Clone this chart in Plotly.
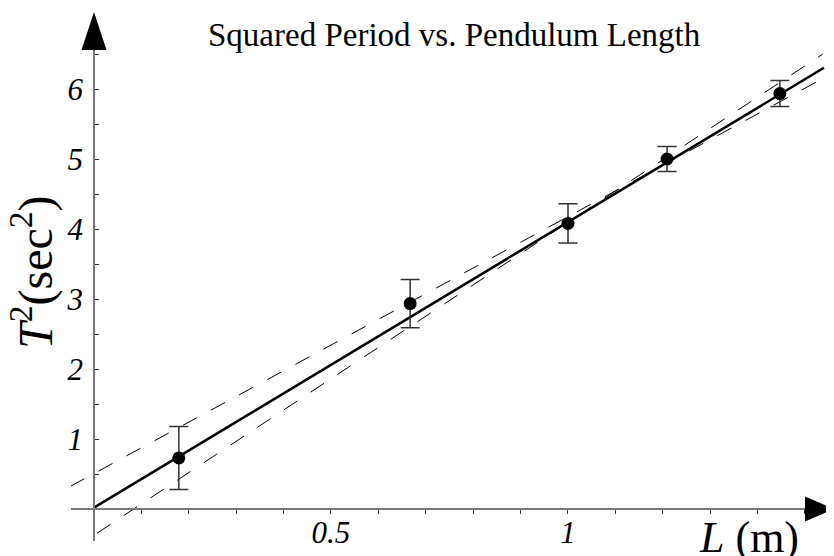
import plotly.graph_objects as go

# ---------------- data ----------------
length_m = [0.179, 0.667, 1.0, 1.209, 1.447]
period_sq = [0.73, 2.935, 4.08, 5.0, 5.935]
period_sq_err = [0.45, 0.345, 0.28, 0.18, 0.185]

fit_slope = 4.08
fit_intercept = 0.02
fit_x = [0.0, 1.54]

upper_slope = 3.67          # shallow bound line
upper_intercept = 0.507
upper_x = [-0.05, 1.551]

lower_slope = 4.47          # steep bound line
lower_intercept = -0.374
lower_x = [-0.05, 1.537]

x_tick_vals = [0.5, 1.0]
x_tick_text = ["0.5", "1"]
x_minor_vals = [0.1, 0.2, 0.3, 0.4, 0.6, 0.7, 0.8, 0.9, 1.1, 1.2, 1.3, 1.4, 1.5]
y_tick_vals = [1, 2, 3, 4, 5, 6]
y_tick_text = ["1", "2", "3", "4", "5", "6"]
y_minor_vals = [0.5, 1.5, 2.5, 3.5, 4.5, 5.5, 6.5]

title_text = "Squared Period vs. Pendulum Length"
y_label = "<i>T</i><sup>2</sup>(sec<sup>2</sup>)"
x_label = "<i>L</i> (m)"

# ---------------- layout geometry ----------------
W, H = 834, 556
OFF = 8  # page body margin offset
x_dom = [(71 - OFF) / W, (834 - OFF) / W]
x_rng = [-0.0485, 1.5612]
y_dom = [(H - (541 - OFF)) / H, (H - (20 - OFF)) / H]
y_rng = [-0.457, 6.986]

def xpaper(v):
    return x_dom[0] + (v - x_rng[0]) / (x_rng[1] - x_rng[0]) * (x_dom[1] - x_dom[0])

def ypaper(v):
    return y_dom[0] + (v - y_rng[0]) / (y_rng[1] - y_rng[0]) * (y_dom[1] - y_dom[0])

def sx(px):
    return (px - OFF) / W

def sy(py):
    return 1 - (py - OFF) / H

SERIF = "Liberation Serif, Times New Roman, serif"

fig = go.Figure()

def line_pts(xs, m, b):
    return xs, [m * x + b for x in xs]

ux, uy = line_pts(upper_x, upper_slope, upper_intercept)
lx, ly = line_pts(lower_x, lower_slope, lower_intercept)
fx, fy = line_pts(fit_x, fit_slope, fit_intercept)

for xs, ys in [(ux, uy), (lx, ly)]:
    fig.add_trace(go.Scatter(x=xs, y=ys, mode="lines",
                             line=dict(color="black", width=1, dash="16px,16px"),
                             showlegend=False, hoverinfo="skip"))

fig.add_trace(go.Scatter(x=fx, y=fy, mode="lines",
                         line=dict(color="black", width=2.5),
                         showlegend=False, hoverinfo="skip"))

fig.add_trace(go.Scatter(x=length_m, y=period_sq, mode="markers",
                         marker=dict(color="black", size=13),
                         error_y=dict(type="data", array=period_sq_err, visible=True,
                                      color="#333333", thickness=1.5, width=9.5),
                         showlegend=False))

# arrowheads on the axes
x_tip = (sx(834), ypaper(0))
ax_len, ax_half = 29 / W, 12.5 / H
ay_len, ay_half = 38 / H, 12.5 / W
y_tip = (xpaper(0), sy(12))
shapes = [
    dict(type="path", xref="paper", yref="paper", fillcolor="black", line=dict(width=0),
         path=f"M {x_tip[0]} {x_tip[1]} L {x_tip[0]-ax_len} {x_tip[1]+ax_half} "
              f"L {x_tip[0]-ax_len} {x_tip[1]-ax_half} Z"),
    dict(type="path", xref="paper", yref="paper", fillcolor="black", line=dict(width=0),
         path=f"M {y_tip[0]} {y_tip[1]} L {y_tip[0]-ay_half} {y_tip[1]-ay_len} "
              f"L {y_tip[0]+ay_half} {y_tip[1]-ay_len} Z"),
]

tick_font = dict(family=SERIF, size=31, color="black", style="italic")

fig.update_layout(
    width=W, height=H,
    margin=dict(l=0, r=0, t=0, b=0),
    paper_bgcolor="white", plot_bgcolor="white",
    shapes=shapes,
    xaxis=dict(domain=x_dom, range=x_rng, anchor="free", position=ypaper(0),
               showgrid=False, zeroline=False, showline=True, linecolor="#777777", linewidth=1.5,
               ticks="outside", ticklen=4, tickwidth=1, tickcolor="#333333",
               tickvals=x_tick_vals, ticktext=x_tick_text, ticklabelstandoff=-8,
               minor=dict(tickvals=x_minor_vals, ticks="outside", ticklen=4, tickwidth=1,
                          tickcolor="#333333", showgrid=False),
               tickfont=tick_font),
    yaxis=dict(domain=y_dom, range=y_rng, anchor="free", position=xpaper(0),
               showgrid=False, zeroline=False, showline=True, linecolor="#777777", linewidth=1.5,
               ticks="inside", ticklen=4, tickwidth=1, tickcolor="#333333",
               tickvals=y_tick_vals, ticktext=y_tick_text, ticklabelstandoff=4,
               minor=dict(tickvals=y_minor_vals, ticks="inside", ticklen=4, tickwidth=1,
                          tickcolor="#333333", showgrid=False),
               tickfont=tick_font),
    annotations=[
        dict(text=title_text, xref="paper", yref="paper", x=sx(454), y=sy(35),
             xanchor="center", yanchor="middle", showarrow=False,
             font=dict(family=SERIF, size=33, color="black")),
        dict(text=y_label, xref="paper", yref="paper", x=sx(33), y=sy(272),
             xanchor="center", yanchor="middle", showarrow=False, textangle=-90,
             font=dict(family=SERIF, size=48, color="black")),
        dict(text=x_label, xref="paper", yref="paper", x=sx(749), y=sy(537),
             xanchor="center", yanchor="middle", showarrow=False,
             font=dict(family=SERIF, size=44, color="black")),
    ],
)

fig.write_html("out.html")
